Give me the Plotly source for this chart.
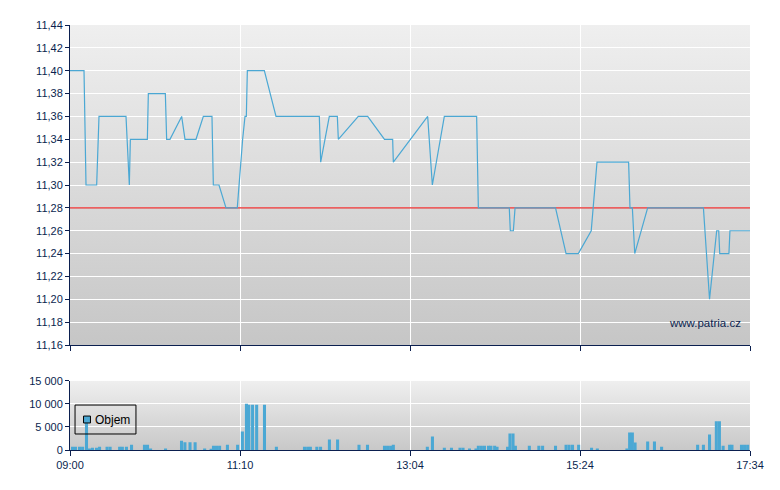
import base64
import plotly.graph_objects as go

# ---- data (x = time slot index on an evenly spaced session axis) ----
tick_slots = [0, 50, 100, 150, 200]
tick_labels = ["09:00", "11:10", "13:04", "15:24", "17:34"]

price_x = [0, 4.12, 4.71, 7.84, 8.53, 16.47, 17.45, 17.75, 22.75, 23.04, 28.04, 28.43,
           29.41, 32.84, 33.82, 37.06, 39.22, 41.76, 42.16, 43.82, 45.88, 49.2, 50.78,
           51.47, 51.86, 52.16, 57.16, 60.59, 73.33, 73.73, 76.27, 78.63, 78.92, 84.8,
           87.55, 92.5, 94.9, 95.1, 105.2, 106.57, 110.1, 119.6, 120.1, 129.2, 129.5,
           130.4, 130.9, 142.8, 145.9, 149.5, 153.3, 153.9, 155.0, 164.3, 164.7, 165.4,
           166.1, 169.9, 186.3, 188.1, 190.2, 190.8, 191.1, 193.8, 194.1, 200]
price_y = [11.40, 11.40, 11.30, 11.30, 11.36, 11.36, 11.30, 11.34, 11.34, 11.38, 11.38, 11.34,
           11.34, 11.36, 11.34, 11.34, 11.36, 11.36, 11.30, 11.30, 11.28, 11.28, 11.34,
           11.36, 11.36, 11.40, 11.40, 11.36, 11.36, 11.32, 11.36, 11.36, 11.34, 11.36,
           11.36, 11.34, 11.34, 11.32, 11.36, 11.30, 11.36, 11.36, 11.28, 11.28, 11.26,
           11.26, 11.28, 11.28, 11.24, 11.24, 11.26, 11.28, 11.32, 11.32, 11.28, 11.28,
           11.24, 11.28, 11.28, 11.20, 11.26, 11.26, 11.24, 11.24, 11.26, 11.26]

prev_close = 11.28

vol_x = [0.74, 1.6, 2.8, 3.7, 4.85, 5.7, 6.6, 7.8, 8.7, 10.9, 11.8, 14.6, 15.4, 16.6, 18.1,
         21.9, 22.8, 23.7, 28.1, 32.8, 33.8, 35.3, 36.8, 39.6, 41.5, 42.2, 43.1, 44.0,
         46.3, 49.3, 50.7, 51.9, 52.6, 53.7, 54.9, 57.2, 60.7, 68.97, 69.9, 70.7, 72.6,
         73.7, 76.3, 78.7, 85.0, 87.5, 92.5, 93.4, 94.3, 95.1, 105.1, 106.6, 110.1, 112.2,
         114.7, 115.6, 117.5, 119.4, 120.1, 121.0, 121.9, 123.1, 123.8, 124.9, 125.6,
         128.7, 129.4, 130.3, 131.0, 135.1, 137.9, 139.0, 142.8, 145.9, 146.8, 147.8,
         149.6, 153.4, 155.1, 163.8, 164.6, 165.4, 166.2, 169.9, 171.9, 174.0, 184.6,
         186.3, 188.1, 190.1, 191.0, 192.1, 194.0, 194.7, 197.5, 198.4, 199.3]
vol_y = [720, 720, 700, 700, 6200, 300, 500, 500, 700, 700, 700, 700, 700, 700, 1150,
         1150, 1150, 300, 300, 2030, 1700, 1700, 1700, 300, 200, 900, 900, 900,
         1150, 1150, 4000, 10040, 9800, 9800, 9800, 9800, 700, 700, 700, 700, 700,
         700, 2250, 2250, 1150, 1150, 900, 900, 900, 1150, 700, 2900, 500, 500,
         500, 500, 300, 300, 900, 900, 900, 900, 900, 900, 700,
         700, 3560, 3560, 900, 900, 900, 900, 900, 1150, 1150, 1150,
         1150, 500, 300, 300, 3780, 3780, 1600, 1820, 1820, 700, 1150,
         1150, 3350, 6200, 6200, 900, 1150, 1150, 1150, 1150, 1150]

legend_label = "Objem"
watermark = "www.patria.cz"

# ---- styling ----
NAVY = "#0b1f4f"
BLUE = "#4ba8d4"
RED = "#e82a2a"
FONT = "Liberation Sans, Arial, sans-serif"


def gradient_uri(top, bottom):
    svg = ('<svg xmlns="http://www.w3.org/2000/svg" width="10" height="100" '
           'preserveAspectRatio="none"><defs><linearGradient id="g" x1="0" y1="0" '
           'x2="0" y2="1"><stop offset="0" stop-color="%s"/><stop offset="1" '
           'stop-color="%s"/></linearGradient></defs><rect width="10" height="100" '
           'fill="url(#g)"/></svg>') % (top, bottom)
    return "data:image/svg+xml;base64," + base64.b64encode(svg.encode()).decode()


fig = go.Figure()

# previous close reference line (spans the whole session axis)
fig.add_trace(go.Scatter(x=[tick_slots[0], tick_slots[-1]], y=[prev_close, prev_close],
                         mode="lines", line=dict(color=RED, width=1.1),
                         xaxis="x", yaxis="y", showlegend=False, hoverinfo="skip"))

fig.add_trace(go.Scatter(x=price_x, y=price_y, mode="lines",
                         line=dict(color=BLUE, width=1.2),
                         xaxis="x", yaxis="y", showlegend=False, hoverinfo="skip"))

fig.add_trace(go.Bar(x=vol_x, y=vol_y, width=0.9, marker=dict(color=BLUE, line=dict(width=0)),
                     xaxis="x2", yaxis="y2", showlegend=False, name=legend_label))

axis_common = dict(showline=True, linecolor=NAVY, linewidth=1, ticks="outside",
                   tickcolor=NAVY, tickfont=dict(family=FONT, size=11, color=NAVY),
                   showgrid=True, gridcolor="white", gridwidth=1, zeroline=False)

fig.update_layout(
    width=780, height=490,
    margin=dict(l=62, r=38, t=17, b=48),
    paper_bgcolor="white",
    plot_bgcolor="rgba(0,0,0,0)",
    separators=", ",
    showlegend=False,
    font=dict(family=FONT, size=11, color=NAVY),
    xaxis=dict(range=[0, 200], tickvals=tick_slots, ticktext=[""] * len(tick_slots),
               ticklen=5, anchor="y", **axis_common),
    yaxis=dict(range=[11.16, 11.44], dtick=0.02, tick0=11.16, tickformat=".2f",
               ticklen=4, domain=[0.247, 1], anchor="x", **axis_common),
    xaxis2=dict(range=[0, 200], tickvals=tick_slots, ticktext=tick_labels,
                ticklen=5, anchor="y2", **axis_common),
    yaxis2=dict(range=[0, 15000], dtick=5000, tickformat=",d", ticklen=4,
                domain=[0, 0.163], anchor="x2", **axis_common),
    images=[
        dict(source=gradient_uri("#efefef", "#c6c6c6"), xref="x domain", yref="y domain",
             x=0, y=1, sizex=1, sizey=1, sizing="stretch", xanchor="left",
             yanchor="top", layer="below"),
        dict(source=gradient_uri("#efefef", "#c8c8c8"), xref="x2 domain", yref="y2 domain",
             x=0, y=1, sizex=1, sizey=1, sizing="stretch", xanchor="left",
             yanchor="top", layer="below"),
    ],
    shapes=[
        # legend box and swatch
        dict(type="rect", xref="x2 domain", yref="y2 domain", x0=0.0074, x1=0.097,
             y0=0.231, y1=0.649, line=dict(color="black", width=1),
             fillcolor="rgba(0,0,0,0)", layer="above"),
        dict(type="rect", xref="x2 domain", yref="y2 domain", x0=0.0199, x1=0.0301,
             y0=0.39, y1=0.49, line=dict(color="black", width=1),
             fillcolor=BLUE, layer="above"),
    ],
    annotations=[
        dict(text=watermark, xref="x domain", yref="y domain",
             x=0.99, y=0.069, xanchor="right", yanchor="middle",
             showarrow=False, font=dict(family=FONT, size=11.5, color=NAVY)),
        dict(text=legend_label, xref="x2 domain", yref="y2 domain",
             x=0.0368, y=0.44, xanchor="left", yanchor="middle", xshift=-2,
             showarrow=False, font=dict(family=FONT, size=12, color="black")),
    ],
)

fig.write_html("out.html")
